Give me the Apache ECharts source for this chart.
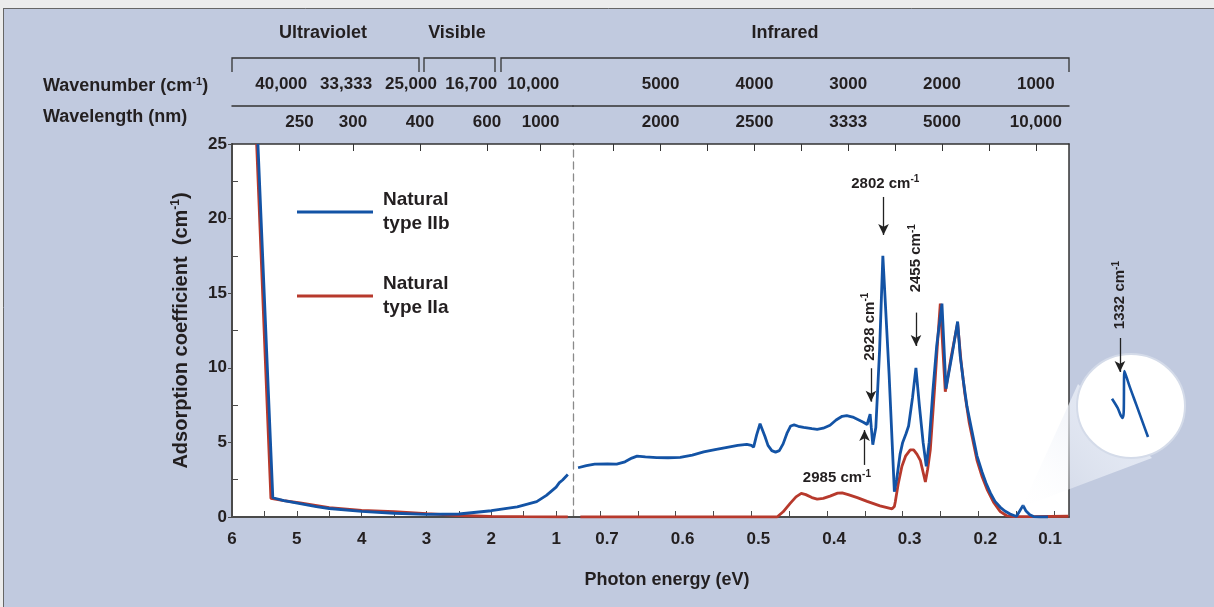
<!DOCTYPE html>
<html>
<head>
<meta charset="utf-8">
<script src="https://cdn.jsdelivr.net/npm/echarts@6/dist/echarts.min.js"></script>
<style>
  html, body { margin: 0; padding: 0; background: #ececec; }
  #chart { width: 1214px; height: 607px; }
</style>
</head>
<body>
<div id="chart"></div>
<script>
// photon energy (eV) / absorption coefficient (cm-1), UV-visible part
const blueUvE = [5.60, 5.37, 5.20, 4.95, 4.70, 4.50, 4.00, 3.50, 3.00, 2.50, 2.00, 1.60, 1.30, 1.15, 1.00, 0.95, 0.90, 0.82];
const blueUvV = [25.0, 1.29, 1.10, 0.90, 0.70, 0.57, 0.38, 0.25, 0.17, 0.20, 0.42, 0.68, 1.03, 1.45, 2.00, 2.30, 2.48, 2.85];
const redUvE = [5.62, 5.40, 5.20, 4.95, 4.50, 4.00, 3.50, 3.00, 2.50, 2.00, 1.50, 0.82];
const redUvV = [25.0, 1.25, 1.10, 0.95, 0.62, 0.45, 0.36, 0.22, 0.10, 0.04, 0.02, 0.00];

// infrared part
const blueIrE = [0.729, 0.718, 0.707, 0.690, 0.678, 0.667, 0.658, 0.651, 0.640, 0.625, 0.610, 0.594, 0.578, 0.563, 0.548, 0.532, 0.518, 0.506, 0.500, 0.497,
  0.493, 0.4885, 0.486, 0.482, 0.478, 0.473, 0.468, 0.463, 0.458, 0.453, 0.448, 0.4435, 0.438, 0.431, 0.420, 0.413, 0.405, 0.396, 0.388, 0.380,
  0.374, 0.366, 0.358, 0.352, 0.347, 0.3445, 0.343, 0.3415, 0.3395, 0.3375, 0.3355, 0.3305, 0.3262, 0.3245, 0.318, 0.311, 0.308, 0.3035, 0.300, 0.2955,
  0.2922, 0.287, 0.2825, 0.278, 0.273, 0.2688, 0.265, 0.260, 0.255, 0.2481, 0.2428, 0.235, 0.2274, 0.224, 0.220, 0.215, 0.209, 0.2018, 0.195, 0.190,
  0.184, 0.178, 0.171, 0.165, 0.158, 0.1497, 0.1409, 0.137, 0.132, 0.127, 0.118, 0.108];
const blueIrV = [3.30, 3.45, 3.55, 3.56, 3.54, 3.70, 3.95, 4.08, 4.03, 3.98, 3.97, 4.00, 4.15, 4.36, 4.52, 4.67, 4.80, 4.87, 4.80, 4.68,
  5.50, 6.25, 6.20, 5.40, 4.80, 4.45, 4.35, 4.45, 4.90, 5.60, 6.10, 6.17, 6.08, 6.00, 5.92, 5.88, 5.95, 6.15, 6.50, 6.75,
  6.80, 6.70, 6.50, 6.35, 6.20, 6.15, 6.90, 6.00, 4.85, 4.75, 6.00, 11.2, 17.5, 17.5, 9.6, 1.7, 2.5, 4.2, 5.0, 5.6,
  6.1, 8.0, 10.0, 7.5, 5.0, 3.4, 5.0, 8.5, 11.5, 14.3, 8.6, 10.8, 13.1, 10.8, 9.2, 7.4, 5.9, 4.1, 3.0, 2.3,
  1.6, 1.05, 0.65, 0.40, 0.20, 0.03, 0.78, 0.40, 0.15, 0.03, 0.0, 0.0];
const redIrE = [0.726, 0.466, 0.458, 0.449, 0.441, 0.434, 0.428, 0.420, 0.413, 0.405, 0.396, 0.386, 0.380, 0.372, 0.360, 0.347, 0.330, 0.314, 0.311, 0.3098,
  0.306, 0.301, 0.296, 0.290, 0.2855, 0.281, 0.2767, 0.273, 0.270, 0.267, 0.2635, 0.258, 0.2535, 0.2503, 0.2437, 0.236, 0.2274, 0.223, 0.218, 0.212,
  0.2018, 0.195, 0.188, 0.180, 0.171, 0.163, 0.153, 0.130, 0.081];
const redIrV = [0.0, 0.0, 0.35, 0.9, 1.35, 1.58, 1.5, 1.3, 1.2, 1.25, 1.4, 1.6, 1.62, 1.5, 1.3, 1.05, 0.75, 0.55, 0.7, 1.0,
  2.2, 3.4, 4.1, 4.5, 4.5, 4.2, 3.8, 3.0, 2.35, 3.2, 4.5, 8.5, 12.0, 14.3, 8.4, 10.7, 13.0, 10.5, 8.3, 6.3,
  3.8, 2.7, 1.8, 1.0, 0.36, 0.1, 0.02, 0.03, 0.05];

// magnified view of the 1332 cm-1 line (local units of the inset)
const insetX = [0, 0.157, 0.25, 0.30, 0.326, 0.345, 0.486, 0.674, 0.86, 1.0];
const insetY = [0.58, 0.44, 0.32, 0.29, 0.39, 1.0, 0.77, 0.49, 0.21, 0.0];

// axis ticks and labels
const eLeftTicks = [1, 1.5, 2, 2.5, 3, 3.5, 4, 4.5, 5, 5.5];
const eLeftLabels = [1, 2, 3, 4, 5, 6];
const eRightTicks = [0.1, 0.15, 0.2, 0.25, 0.3, 0.35, 0.4, 0.45, 0.5, 0.55, 0.6, 0.65, 0.7];
const eRightLabels = [0.1, 0.2, 0.3, 0.4, 0.5, 0.6, 0.7];
const yMinorTicks = [2.5, 7.5, 12.5, 17.5, 22.5];
const wlLeftText = ['250', '300', '400', '600', '1000'];
const wlLeftEv = [4.96, 4.133, 3.1, 2.066, 1.24];
const wnLeftText = ['40,000', '33,333', '25,000', '16,700', '10,000'];
const wnLeftEv = [5.24, 4.24, 3.24, 2.31, 1.355];
const wnRightText = ['5000', '4000', '3000', '2000', '1000'];
const wnRightEv = [0.6199, 0.4959, 0.3720, 0.2480, 0.1240];
const wlRightText = ['2000', '2500', '3333', '5000', '10,000'];
const wlRightEv = [0.6199, 0.4959, 0.3720, 0.2480, 0.1240];
const wnTickEv = [0.6819, 0.6199, 0.5579, 0.4959, 0.4339, 0.3720, 0.3100, 0.2480, 0.1860, 0.1240];

// peak annotations
const annoText = ['2802 cm{sup|-1}', '2928 cm{sup|-1}', '2455 cm{sup|-1}', '2985 cm{sup|-1}'];
const annoE = [0.323, 0.3438, 0.2824, 0.3869];
const annoV = [22.36, 12.75, 17.34, 2.59];
const annoRotate = [0, 90, 90, 0];
const arrowE = [0.3253, 0.3419, 0.2824, 0.3504];
const arrowFrom = [21.45, 9.97, 13.7, 3.49];
const arrowTo = [18.9, 7.73, 11.46, 5.83];

const BLUE = '#1353a5';
const RED = '#b7392c';
const INK = '#231f20';
const FONT = '"Liberation Sans", Arial, Helvetica, sans-serif';
const NAME_B = 'Natural\ntype IIb';
const NAME_A = 'Natural\ntype IIa';

function zip(xs, ys) {
  return xs.map((x, i) => [x, ys[i]]);
}

function pick(pos, texts) {
  return function (v) {
    const i = pos.findIndex(p => Math.abs(p - v) < 1e-4);
    return i >= 0 ? texts[i] : '';
  };
}

const labelFont = { fontSize: 17, fontWeight: 'bold', color: INK, fontFamily: FONT };
const supRich = { sup: { fontSize: 10, fontWeight: 'bold', color: INK, fontFamily: FONT, verticalAlign: 'top', lineHeight: 10 } };
const annoLabel = {
  show: true, position: 'inside', fontSize: 15, fontWeight: 'bold', color: INK, fontFamily: FONT, lineHeight: 18,
  opacity: 1, textBorderWidth: 0, rich: supRich
};
const arrowLine = {
  silent: true, symbol: ['none', 'arrow'], symbolSize: [8, 11],
  lineStyle: { color: '#222', width: 1.3, type: 'solid' },
  label: { show: false }
};

const chart = echarts.init(document.getElementById('chart'));

const option = {
  animation: false,
  backgroundColor: '#c1cadf',
  textStyle: { fontFamily: FONT },
  grid: [
    { left: 232, top: 144, width: 341, height: 373, show: true, backgroundColor: '#fff', borderWidth: 0 },
    { left: 573, top: 144, width: 496, height: 373, show: true, backgroundColor: '#fff', borderWidth: 0 },
    // inset: y 0..1 spans the lens drawing, up to 2.25 leaves room for the 1332 cm-1 note
    { left: 1112, top: 288.5, width: 36, height: 148.5 }
  ],
  legend: {
    orient: 'vertical',
    left: 292,
    top: 183,
    itemWidth: 76,
    itemHeight: 3,
    itemGap: 36,
    icon: 'rect',
    selectedMode: false,
    data: [NAME_B, NAME_A],
    textStyle: { fontSize: 19, fontWeight: 'bold', color: INK, lineHeight: 24, padding: [0, 0, 0, 5], fontFamily: FONT }
  },
  xAxis: [
    { // bottom, UV-visible
      gridIndex: 0, type: 'value', min: 0.74, max: 6, inverse: true, position: 'bottom',
      axisLine: { onZero: false, lineStyle: { color: '#4a4a4a', width: 2 } },
      axisTick: { inside: true, length: 6, customValues: eLeftTicks, lineStyle: { color: '#4a4a4a' } },
      axisLabel: Object.assign({ customValues: eLeftLabels, margin: 14, formatter: v => String(Math.round(v)) }, labelFont),
      splitLine: { show: false }
    },
    { // bottom, infrared
      gridIndex: 1, type: 'value', min: 0.0802, max: 0.7357, inverse: true, position: 'bottom',
      axisLine: { onZero: false, lineStyle: { color: '#4a4a4a', width: 2 } },
      axisTick: { inside: true, length: 6, customValues: eRightTicks, lineStyle: { color: '#4a4a4a' } },
      axisLabel: Object.assign({
        customValues: eRightLabels, margin: 14,
        formatter: v => Math.abs(v - 0.1) < 1e-6 ? '{e|0.1}' : '{r|' + v.toFixed(1) + '}',
        rich: {
          r: Object.assign({ padding: [0, 0, 0, 14] }, labelFont),
          e: Object.assign({ padding: [0, 8, 0, 0] }, labelFont)
        }
      }, labelFont),
      splitLine: { show: false }
    },
    { // top frame, wavelength, UV-visible
      gridIndex: 0, type: 'value', min: 0.74, max: 6, inverse: true, position: 'top',
      axisLine: { onZero: false, lineStyle: { color: '#333', width: 1.5 } },
      axisTick: { inside: true, length: 7, customValues: wlLeftEv, lineStyle: { color: '#333' } },
      axisLabel: Object.assign({ customValues: wlLeftEv, margin: 13, formatter: pick(wlLeftEv, wlLeftText) }, labelFont),
      splitLine: { show: false }
    },
    { // top frame, wavelength, infrared
      gridIndex: 1, type: 'value', min: 0.0802, max: 0.7357, inverse: true, position: 'top',
      axisLine: { onZero: false, lineStyle: { color: '#333', width: 1.5 } },
      axisTick: { inside: true, length: 7, customValues: wnTickEv, lineStyle: { color: '#333' } },
      axisLabel: Object.assign({ customValues: wlRightEv, margin: 13, formatter: pick(wlRightEv, wlRightText) }, labelFont),
      splitLine: { show: false }
    },
    { // wavenumber row, UV-visible
      gridIndex: 0, type: 'value', min: 0.74, max: 6, inverse: true, position: 'top', offset: 38,
      axisLine: { onZero: false, lineStyle: { color: '#333', width: 1.5 } },
      axisTick: { show: false },
      axisLabel: Object.assign({ customValues: wnLeftEv, margin: 13, formatter: pick(wnLeftEv, wnLeftText) }, labelFont),
      splitLine: { show: false }
    },
    { // wavenumber row, infrared
      gridIndex: 1, type: 'value', min: 0.0802, max: 0.7357, inverse: true, position: 'top', offset: 38,
      axisLine: { onZero: false, lineStyle: { color: '#333', width: 1.5 } },
      axisTick: { show: false },
      axisLabel: Object.assign({ customValues: wnRightEv, margin: 13, formatter: pick(wnRightEv, wnRightText) }, labelFont),
      splitLine: { show: false }
    },
    { gridIndex: 2, type: 'value', min: 0, max: 1, show: false }
  ],
  yAxis: [
    {
      gridIndex: 0, type: 'value', min: 0, max: 25, interval: 5, position: 'left',
      name: 'Adsorption coefficient  (cm{sup|-1})',
      nameLocation: 'middle', nameRotate: 90, nameGap: 40,
      nameTextStyle: {
        fontSize: 20, fontWeight: 'bold', color: INK, fontFamily: FONT, lineHeight: 22,
        rich: { sup: { fontSize: 12, fontWeight: 'bold', color: INK, fontFamily: FONT, verticalAlign: 'top', lineHeight: 12 } }
      },
      axisLine: { onZero: false, lineStyle: { color: '#4a4a4a', width: 2 } },
      axisTick: { inside: false, length: 4, lineStyle: { color: '#4a4a4a' } },
      axisLabel: Object.assign({ margin: 5 }, labelFont),
      splitLine: { show: false }
    },
    {
      gridIndex: 0, type: 'value', min: 0, max: 25, position: 'left',
      axisLine: { show: false },
      axisTick: { inside: true, length: 6, customValues: yMinorTicks, lineStyle: { color: '#4a4a4a' } },
      axisLabel: { show: false },
      splitLine: { show: false }
    },
    { // dashed break between the two energy scales
      gridIndex: 1, type: 'value', min: 0, max: 25, position: 'left',
      axisLine: { onZero: false, lineStyle: { color: '#8a8a8a', width: 1.3, type: [7, 5] } },
      axisTick: { show: false }, axisLabel: { show: false }, splitLine: { show: false }
    },
    {
      gridIndex: 1, type: 'value', min: 0, max: 25, position: 'right',
      axisLine: { onZero: false, lineStyle: { color: '#333', width: 1.5 } },
      axisTick: { show: false }, axisLabel: { show: false }, splitLine: { show: false }
    },
    { gridIndex: 2, type: 'value', min: 0, max: 2.25, show: false }
  ],
  series: [
    {
      name: NAME_A, type: 'line', xAxisIndex: 0, yAxisIndex: 0, data: zip(redUvE, redUvV),
      color: RED, showSymbol: false, lineStyle: { width: 2.8, color: RED }
    },
    {
      name: NAME_B, type: 'line', xAxisIndex: 0, yAxisIndex: 0, data: zip(blueUvE, blueUvV),
      color: BLUE, showSymbol: false, lineStyle: { width: 2.8, color: BLUE }
    },
    {
      name: NAME_A, type: 'line', xAxisIndex: 1, yAxisIndex: 2, data: zip(redIrE, redIrV),
      color: RED, showSymbol: false, lineStyle: { width: 2.8, color: RED }
    },
    {
      name: NAME_B, type: 'line', xAxisIndex: 1, yAxisIndex: 2, data: zip(blueIrE, blueIrV),
      color: BLUE, showSymbol: false, lineStyle: { width: 2.8, color: BLUE },
      markLine: Object.assign({
        data: arrowE.map((e, i) => [{ coord: [e, arrowFrom[i]] }, { coord: [e, arrowTo[i]] }])
      }, arrowLine)
    },
    {
      type: 'scatter', xAxisIndex: 1, yAxisIndex: 2, symbolSize: 0, silent: true,
      itemStyle: { opacity: 1 },
      data: annoE.map((e, i) => ({
        value: [e, annoV[i]],
        label: { rotate: annoRotate[i], formatter: annoText[i] }
      })),
      label: annoLabel
    },
    { // magnified inset
      type: 'line', xAxisIndex: 6, yAxisIndex: 4, data: zip(insetX, insetY), z: 300, clip: false,
      showSymbol: false, smooth: 0.3, color: BLUE, lineStyle: { width: 2.6, color: BLUE },
      markLine: Object.assign({
        z: 302,
        data: [[{ coord: [0.22, 1.5] }, { coord: [0.22, 0.985] }]]
      }, arrowLine)
    },
    {
      type: 'scatter', xAxisIndex: 6, yAxisIndex: 4, symbolSize: 0, silent: true, clip: false, z: 300,
      itemStyle: { opacity: 1 },
      data: [{ value: [0.22, 2.15], label: { rotate: 90, formatter: '1332 cm{sup|-1}' } }],
      label: annoLabel
    }
  ],
  graphic: [
    { type: 'rect', shape: { x: 0, y: 0, width: 1214, height: 8 }, style: { fill: '#ececec' } },
    { type: 'rect', shape: { x: 0, y: 0, width: 3, height: 607 }, style: { fill: '#ececec' } },
    { type: 'line', shape: { x1: 3, y1: 8.5, x2: 1214, y2: 8.5 }, style: { stroke: '#666', lineWidth: 1 } },
    { type: 'line', shape: { x1: 3.5, y1: 8, x2: 3.5, y2: 607 }, style: { stroke: '#666', lineWidth: 1 } },
    // region brackets
    { type: 'polyline', shape: { points: [[232, 72], [232, 58], [419, 58], [419, 72]] }, style: { stroke: '#333', lineWidth: 1.3, fill: null } },
    { type: 'polyline', shape: { points: [[424, 72], [424, 58], [495, 58], [495, 72]] }, style: { stroke: '#333', lineWidth: 1.3, fill: null } },
    { type: 'polyline', shape: { points: [[501, 72], [501, 58], [1069, 58], [1069, 72]] }, style: { stroke: '#333', lineWidth: 1.3, fill: null } },
    { type: 'text', x: 323, y: 33, style: { text: 'Ultraviolet', align: 'center', verticalAlign: 'middle', fontSize: 18, fontWeight: 'bold', fill: INK, fontFamily: FONT } },
    { type: 'text', x: 457, y: 33, style: { text: 'Visible', align: 'center', verticalAlign: 'middle', fontSize: 18, fontWeight: 'bold', fill: INK, fontFamily: FONT } },
    { type: 'text', x: 785, y: 33, style: { text: 'Infrared', align: 'center', verticalAlign: 'middle', fontSize: 18, fontWeight: 'bold', fill: INK, fontFamily: FONT } },
    {
      type: 'text', x: 43, y: 86,
      style: {
        text: 'Wavenumber (cm{sup|-1})', align: 'left', verticalAlign: 'middle', fontSize: 18, fontWeight: 'bold', fill: INK, fontFamily: FONT, lineHeight: 20,
        rich: { sup: { fontSize: 11, fontWeight: 'bold', fill: INK, fontFamily: FONT, verticalAlign: 'top', lineHeight: 11 } }
      }
    },
    { type: 'text', x: 43, y: 117, style: { text: 'Wavelength (nm)', align: 'left', verticalAlign: 'middle', fontSize: 18, fontWeight: 'bold', fill: INK, fontFamily: FONT } },
    { type: 'text', x: 667, y: 580, style: { text: 'Photon energy (eV)', align: 'center', verticalAlign: 'middle', fontSize: 18, fontWeight: 'bold', fill: INK, fontFamily: FONT } },
    // magnifier cone and lens
    {
      type: 'polygon', z: 100,
      shape: { points: [[1022, 507], [1078, 384], [1152, 458]] },
      style: {
        fill: new echarts.graphic.LinearGradient(0, 1, 1, 0, [
          { offset: 0, color: 'rgba(255,255,255,0.15)' },
          { offset: 0.6, color: 'rgba(236,240,248,0.75)' },
          { offset: 1, color: 'rgba(225,231,243,0.95)' }
        ])
      }
    },
    {
      type: 'ellipse', z: 101,
      shape: { cx: 1131, cy: 406, rx: 54, ry: 52 },
      style: { fill: '#fff', stroke: '#d4dbe9', lineWidth: 2 }
    }
  ]
};

chart.setOption(option);
</script>
</body>
</html>
